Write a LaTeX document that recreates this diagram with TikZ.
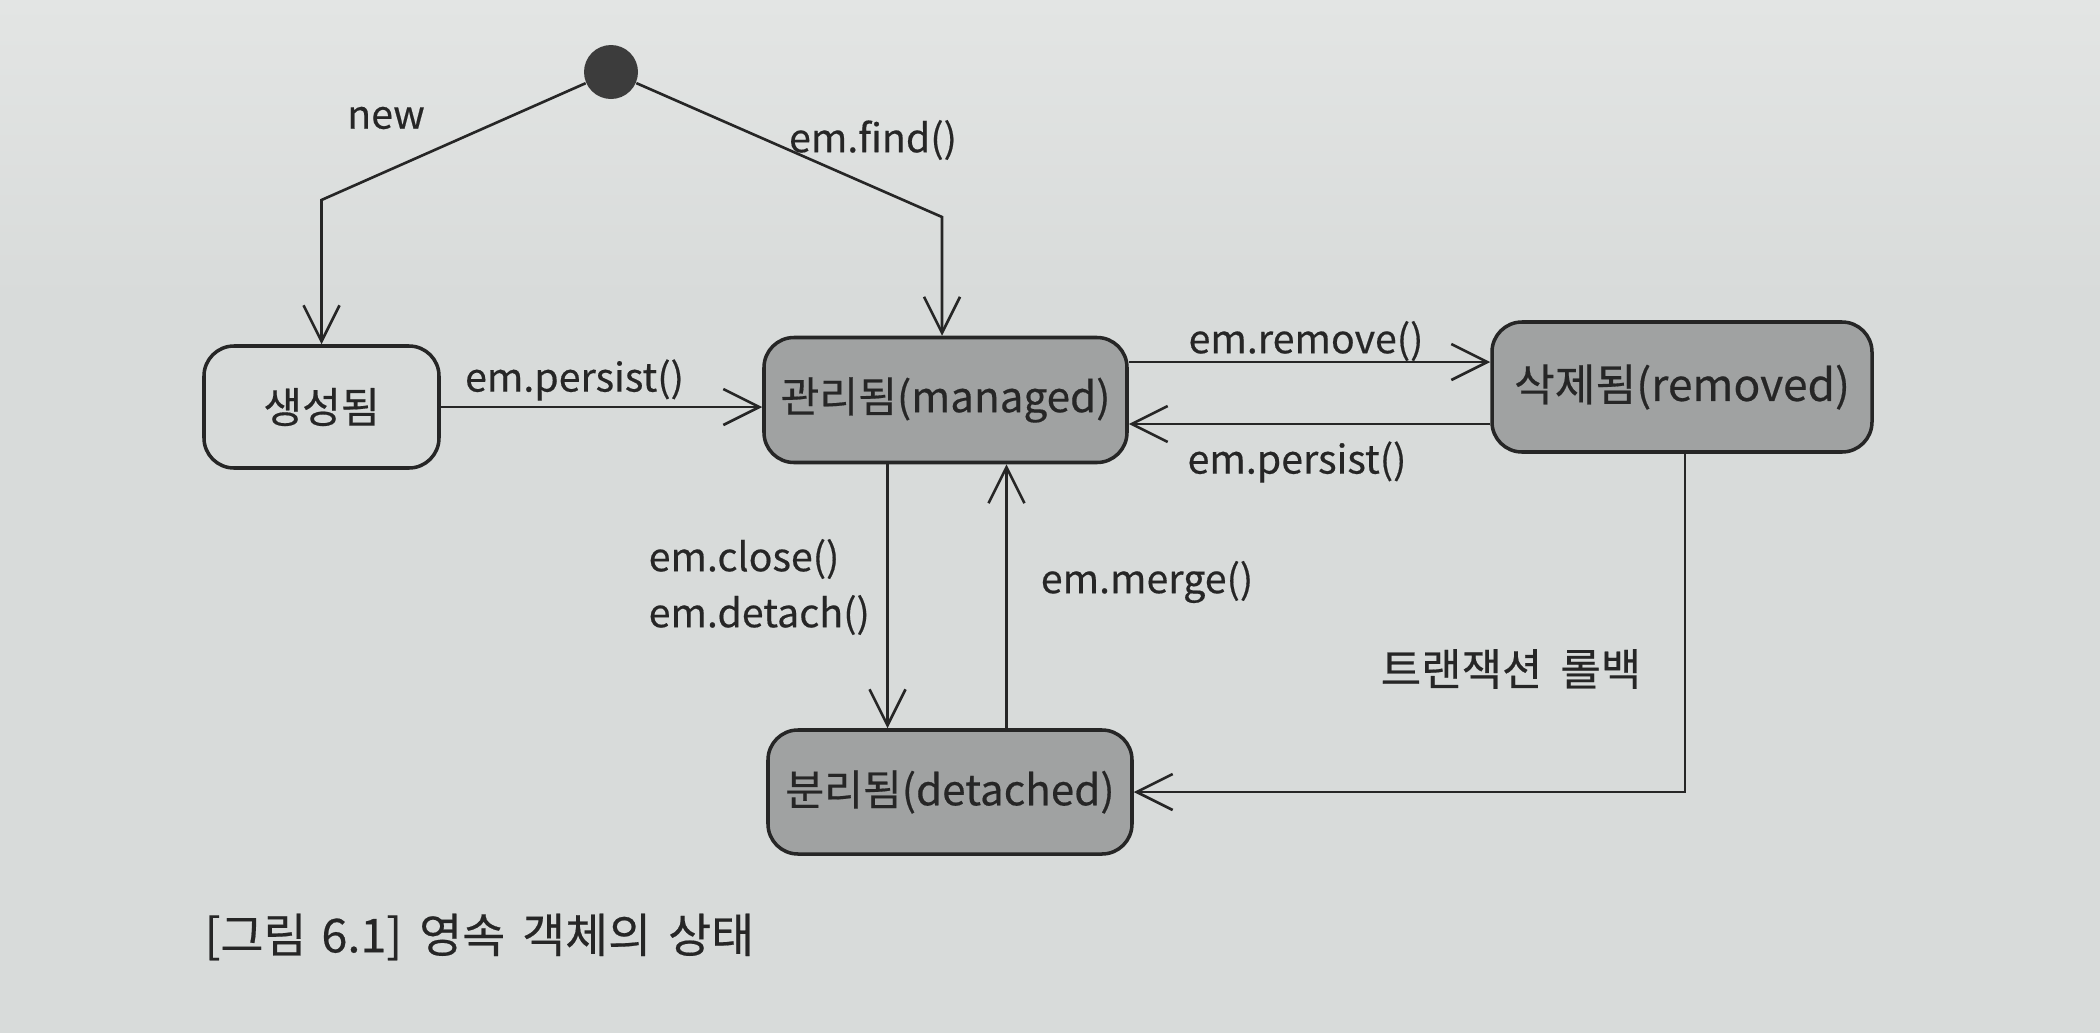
\documentclass[tikz,border=0pt]{standalone}
\usepackage{fontspec}
\setmainfont{Noto Sans CJK KR}[FakeBold=0.4]
\usetikzlibrary{arrows.meta,calc}
\definecolor{paper}{HTML}{D8DBDA}
\definecolor{papertop}{HTML}{E3E5E4}
\definecolor{boxgray}{HTML}{A0A2A2}
\definecolor{ink}{HTML}{262626}
\tikzset{
  state/.style={draw=ink, line width=1pt, rounded corners=0.3cm, align=center,
    font=\fontsize{12}{14}\selectfont, text=ink, inner sep=0pt},
  statefill/.style={state, fill=boxgray},
  arr/.style={draw=ink, line width=0.75pt, -{Straight Barb[length=3.6mm,width=3.6mm]}},
  lbl/.style={font=\fontsize{11.2}{13}\selectfont, text=ink, inner sep=0pt},
}
\begin{document}
\begin{tikzpicture}
\useasboundingbox (0,0) rectangle (21,-10.33);
\shade[top color=papertop, bottom color=paper] (0,0) rectangle (21,-3);
\fill[paper] (0,-3) rectangle (21,-10.33);

\node[circle, fill=ink!90, minimum size=0.54cm, inner sep=0pt] (start) at (6.11,-0.72) {};

\node[state, minimum width=2.35cm, minimum height=1.22cm] (saeng) at (3.215,-4.07) {생성됨};
\node[statefill, minimum width=3.63cm, minimum height=1.25cm] (kwan) at (9.455,-4.0) {관리됨(managed)};
\node[statefill, minimum width=3.80cm, minimum height=1.30cm, font=\fontsize{12.6}{14}\selectfont] (sak) at (16.82,-3.87) {삭제됨(removed)};
\node[statefill, minimum width=3.64cm, minimum height=1.24cm] (det) at (9.50,-7.92) {분리됨(detached)};

\coordinate (nb) at (3.215,-2.0);
\coordinate (fb) at (9.42,-2.17);

\draw[arr] (start) -- (nb) -- (saeng.north);
\draw[arr] (start) -- (fb) -- (fb |- kwan.north);
\draw[arr] (saeng.east) -- (saeng.east -| kwan.west);
\draw[arr] ([yshift=3.8mm]kwan.east) -- ([yshift=3.8mm]kwan.east -| sak.west);
\draw[arr] ([yshift=-2.4mm]kwan.east -| sak.west) -- ([yshift=-2.4mm]kwan.east);
\draw[arr] ([xshift=-5.8mm]kwan.south) -- ([xshift=-5.8mm]kwan.south |- det.north);
\draw[arr] ([xshift=6.1mm]kwan.south |- det.north) -- ([xshift=6.1mm]kwan.south);
\draw[arr] ([xshift=0.3mm]sak.south) |- (det.east);

\node[lbl] (lnew) at (3.86,-1.18) {new};
\node[lbl] (lfind) at (8.73,-1.40) {em.find()};
\node[lbl] (lpers1) at (5.745,-3.80) {em.persist()};
\node[lbl] (lrem) at (13.06,-3.41) {em.remove()};
\node[lbl] (lpers2) at (12.97,-4.62) {em.persist()};
\node[lbl, anchor=west] (lclose) at (6.48,-5.59) {em.close()};
\node[lbl, anchor=west] (ldet) at (6.48,-6.15) {em.detach()};
\node[lbl] (lmerge) at (11.47,-5.82) {em.merge()};
\node[lbl, font=\fontsize{12.5}{14}\selectfont] (lroll) at (15.11,-6.69) {트랜잭션\hspace{0.18cm}롤백};
\node[lbl, anchor=west, font=\fontsize{13.3}{15}\selectfont] (cap) at (2.04,-9.37) {[그림\hspace{0.15cm}6.1]\hspace{0.17cm}영속\hspace{0.17cm}객체의\hspace{0.17cm}상태};
\end{tikzpicture}
\end{document}
